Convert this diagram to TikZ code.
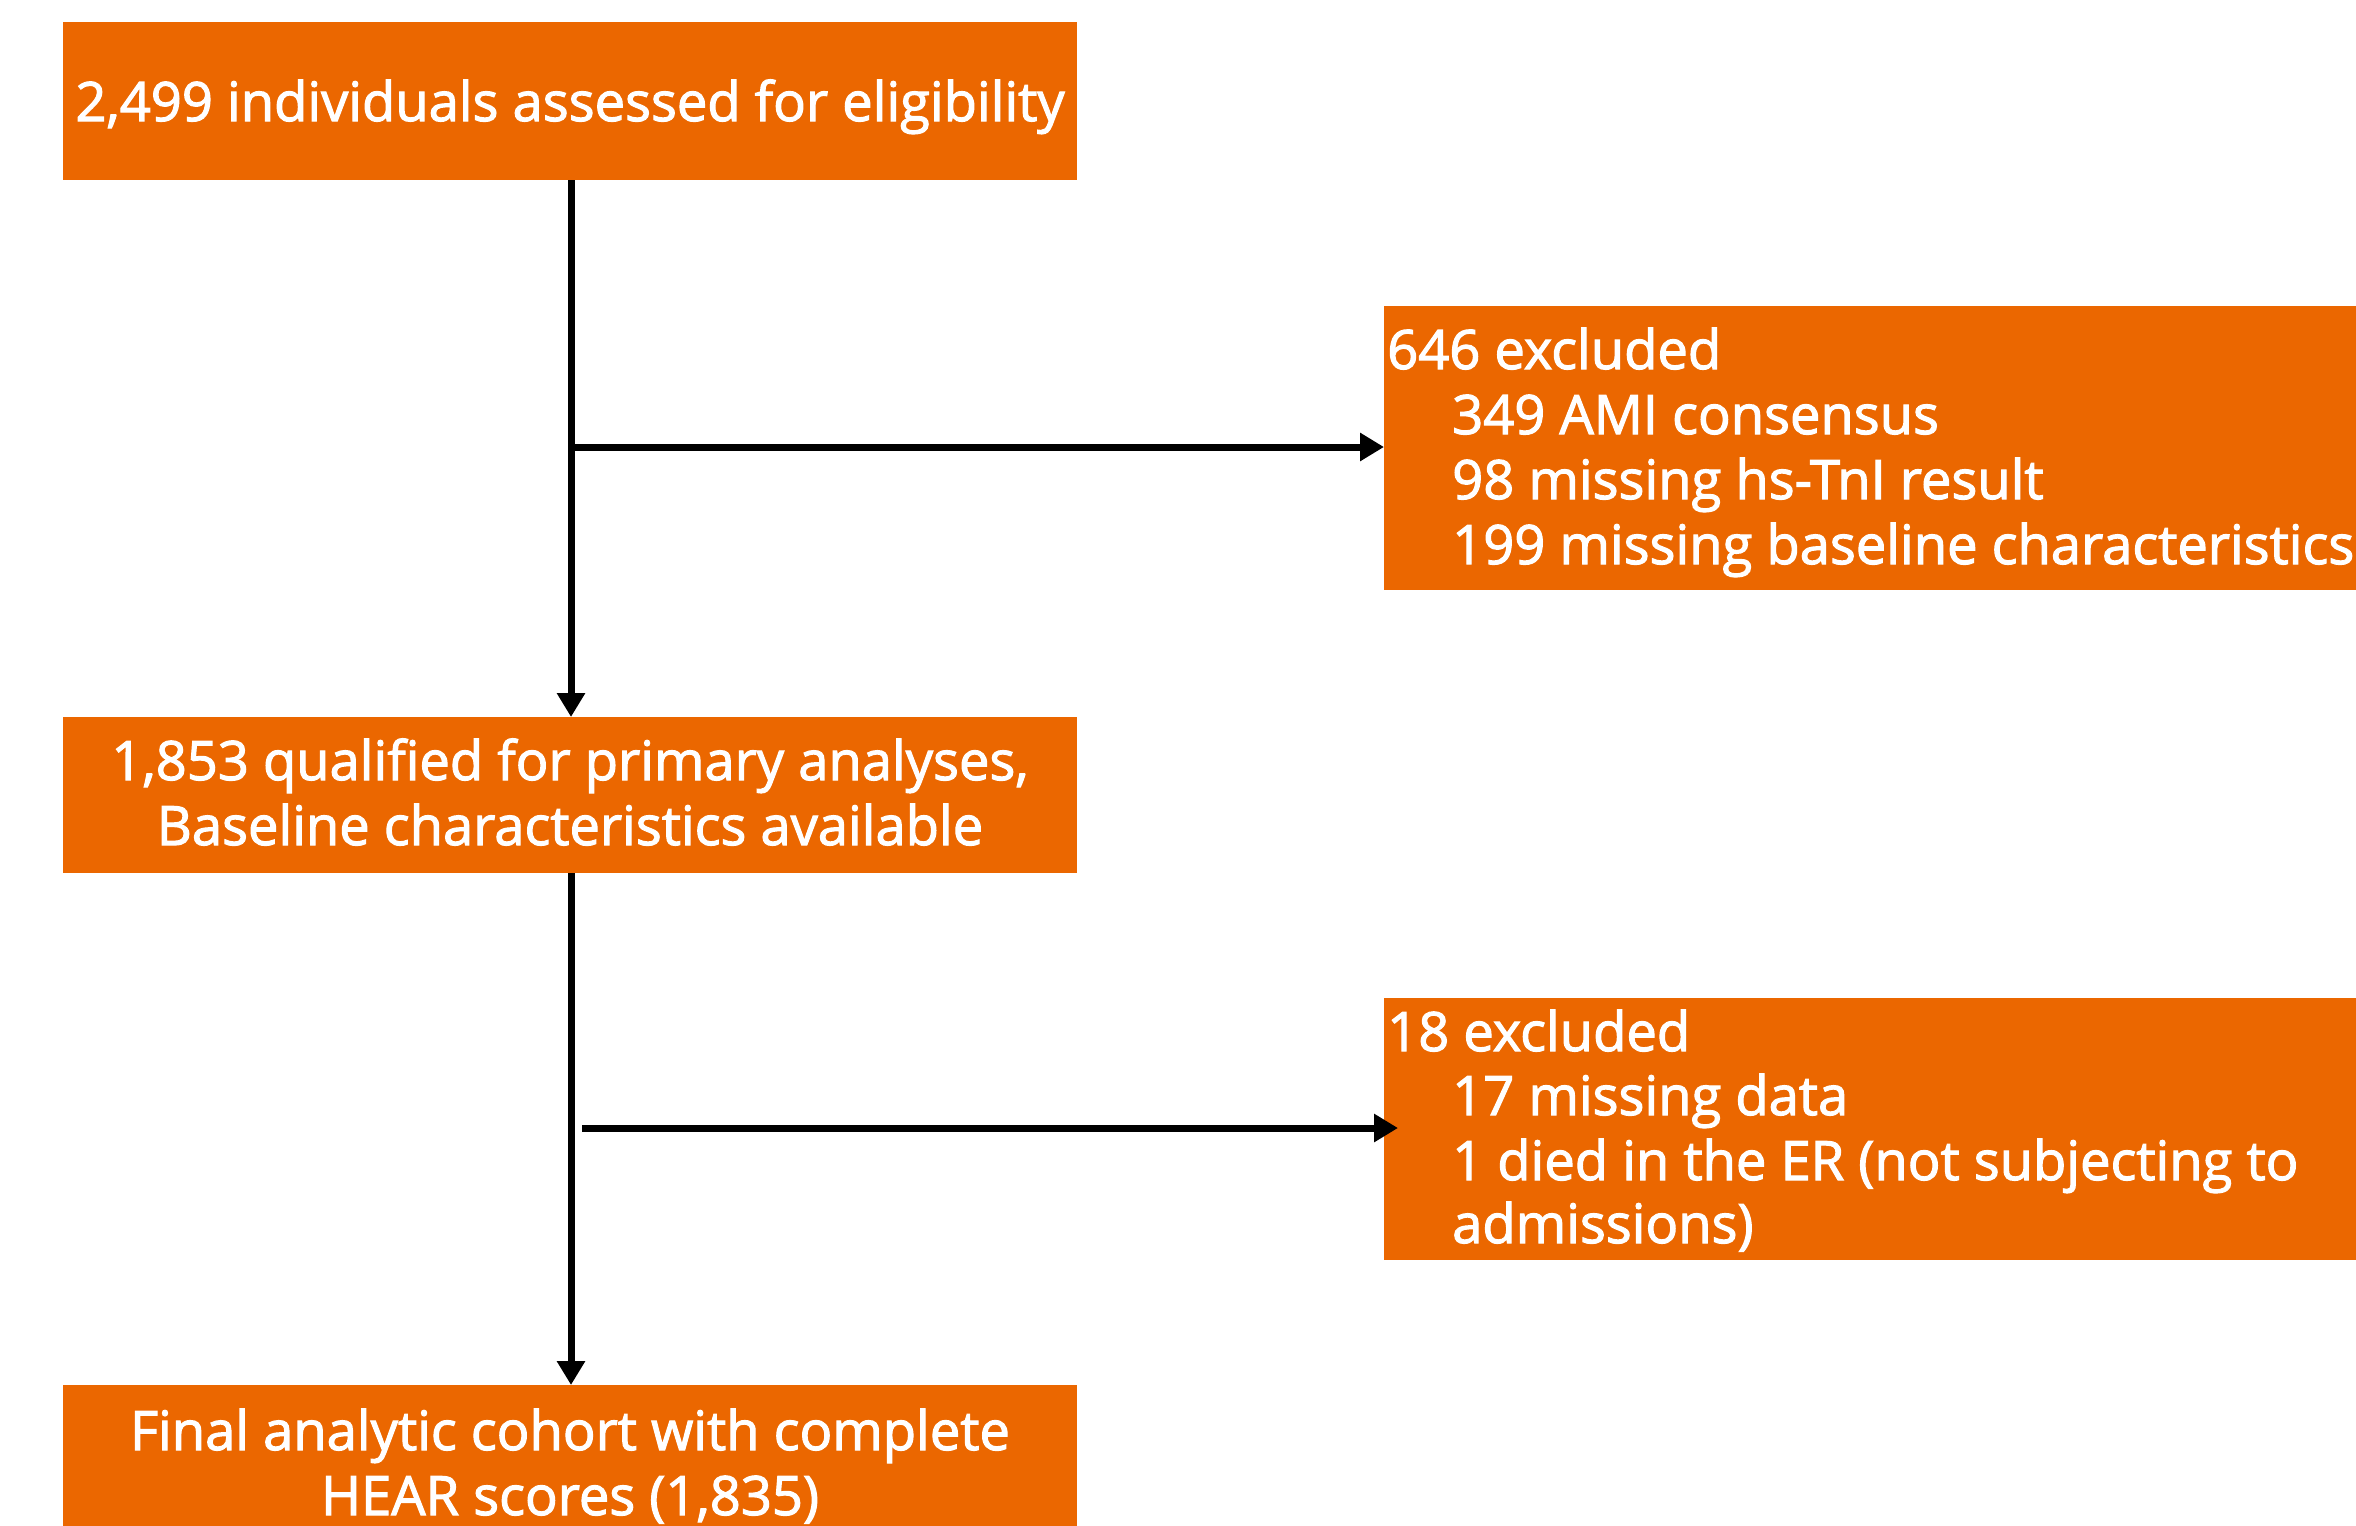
\documentclass[tikz,border=0pt]{standalone}
\usepackage{fontspec}
\setmainfont{Open Sans}[FakeBold=2]
\usetikzlibrary{arrows.meta}
\definecolor{boxorange}{RGB}{235,103,0}
\tikzset{
  flowbox/.style={fill=boxorange, draw=none, inner sep=0pt},
  txt/.style={text=white, inner sep=0pt, font=\fontsize{54.3}{65}\selectfont},
  arr/.style={line width=7pt, -{Triangle[length=24pt,width=27pt]}},
}
\begin{document}
\begin{tikzpicture}[x=1pt,y=-1pt]
\useasboundingbox (0,0) rectangle (2356,1526);
\fill[white] (0,0) rectangle (2356,1526);
% boxes
\node[flowbox, minimum width=1014pt, minimum height=158pt, anchor=north west] (b1) at (63,22) {};
\node[flowbox, minimum width=972pt, minimum height=284pt, anchor=north west] (b2) at (1384,306) {};
\node[flowbox, minimum width=1014pt, minimum height=156pt, anchor=north west] (b3) at (63,717) {};
\node[flowbox, minimum width=972pt, minimum height=262pt, anchor=north west] (b4) at (1384,998) {};
\node[flowbox, minimum width=1014pt, minimum height=160pt, anchor=north west] (b5) at (63,1385) {};
% texts
\node[txt, anchor=base] (t1) at (570,121) {2,499 individuals assessed for eligibility};
\node[txt, anchor=base west] (t2a) at (1387,369) {646 excluded};
\node[txt, anchor=base west] (t2b) at (1452,434) {349 AMI consensus};
\node[txt, anchor=base west] (t2c) at (1452,499) {98 missing hs-TnI result};
\node[txt, anchor=base west] (t2d) at (1452,564) {199 missing baseline characteristics};
\node[txt, anchor=base] (t3a) at (570,780) {1,853 qualified for primary analyses,};
\node[txt, anchor=base] (t3b) at (570,845) {Baseline characteristics available};
\node[txt, anchor=base west] (t4a) at (1387,1051) {18 excluded};
\node[txt, anchor=base west] (t4b) at (1452,1115) {17 missing data};
\node[txt, anchor=base west] (t4c) at (1452,1180) {1 died in the ER (not subjecting to};
\node[txt, anchor=base west] (t4d) at (1452,1243) {admissions)};
\node[txt, anchor=base] (t5a) at (570,1450) {Final analytic cohort with complete};
\node[txt, anchor=base] (t5b) at (570,1515) {HEAR scores (1,835)};
% connectors
\coordinate (j1) at (571,447);
\coordinate (j2) at (582,1128);
\draw[arr] (b1.south -| j1) -- (b3.north -| j1);
\draw[arr] (j1) -- (j1 -| b2.west);
\draw[arr] (b3.south -| j1) -- (b5.north -| j1);
\draw[arr] (j2) -- ([xshift=14pt]j2 -| b4.west);
\end{tikzpicture}
\end{document}
